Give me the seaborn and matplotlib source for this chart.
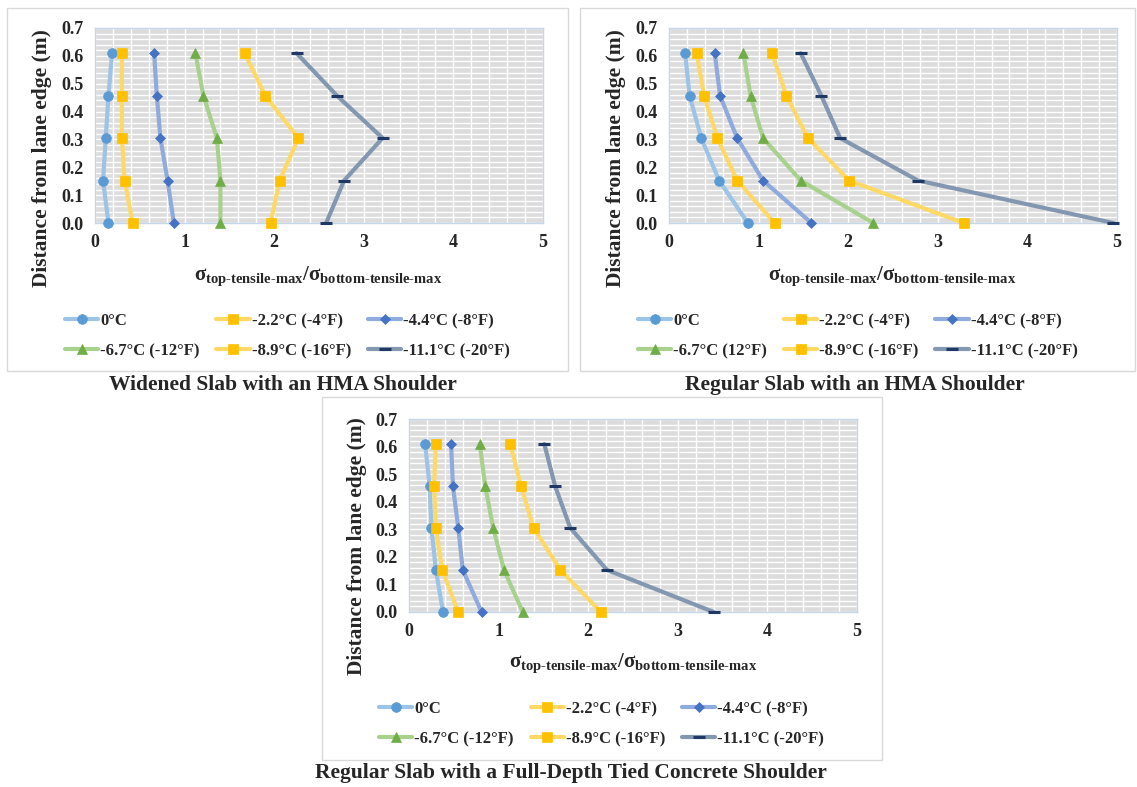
import numpy as np
import pandas as pd
import matplotlib
matplotlib.use("Agg")
import matplotlib.pyplot as plt
from matplotlib.patches import Rectangle
from matplotlib.ticker import MultipleLocator
import seaborn as sns

# ---------------- data ----------------
distance_m = [0.0, 0.1524, 0.3048, 0.4572, 0.6096]
series_labels = ["0\u00b0C", "-2.2\u00b0C (-4\u00b0F)", "-4.4\u00b0C (-8\u00b0F)",
                 "-6.7\u00b0C (-12\u00b0F)", "-8.9\u00b0C (-16\u00b0F)", "-11.1\u00b0C (-20\u00b0F)"]
series_labels_b = ["0\u00b0C", "-2.2\u00b0C (-4\u00b0F)", "-4.4\u00b0C (-8\u00b0F)",
                   "-6.7\u00b0C (12\u00b0F)", "-8.9\u00b0C (-16\u00b0F)", "-11.1\u00b0C (-20\u00b0F)"]

# Widened slab with an HMA shoulder (ratio at distances 0, 0.15, 0.30, 0.46, 0.61 m)
widened_0C    = [0.15, 0.09, 0.12, 0.15, 0.19]
widened_m2_2C = [0.42, 0.33, 0.30, 0.30, 0.30]
widened_m4_4C = [0.88, 0.81, 0.73, 0.69, 0.66]
widened_m6_7C = [1.40, 1.40, 1.36, 1.21, 1.12]
widened_m8_9C = [1.96, 2.06, 2.27, 1.90, 1.67]
widened_m11_1C = [2.58, 2.78, 3.21, 2.70, 2.25]

# Regular slab with an HMA shoulder
regular_0C    = [0.88, 0.56, 0.36, 0.23, 0.18]
regular_m2_2C = [1.18, 0.76, 0.54, 0.39, 0.31]
regular_m4_4C = [1.59, 1.05, 0.76, 0.57, 0.51]
regular_m6_7C = [2.28, 1.47, 1.05, 0.91, 0.83]
regular_m8_9C = [3.29, 2.01, 1.55, 1.31, 1.15]
regular_m11_1C = [4.96, 2.78, 1.91, 1.70, 1.47]

# Regular slab with a full-depth tied concrete shoulder
tied_0C    = [0.38, 0.30, 0.25, 0.23, 0.18]
tied_m2_2C = [0.55, 0.37, 0.30, 0.28, 0.30]
tied_m4_4C = [0.81, 0.60, 0.55, 0.49, 0.47]
tied_m6_7C = [1.27, 1.06, 0.94, 0.85, 0.79]
tied_m8_9C = [2.14, 1.69, 1.39, 1.25, 1.13]
tied_m11_1C = [3.40, 2.21, 1.80, 1.63, 1.51]

panel_titles = ["Widened Slab with an HMA Shoulder",
                "Regular Slab with an HMA Shoulder",
                "Regular Slab with a Full-Depth Tied Concrete Shoulder"]

# ---------------- styles ----------------
line_colors = ["#9DC3E6", "#FFD966", "#8FAADC", "#A9D18E", "#FFD966", "#8497B0"]
marker_colors = ["#5B9BD5", "#FFC000", "#4472C4", "#70AD47", "#FFC000", "#1F3864"]
markers = ["o", "s", "D", "^", "s", "_"]
msizes = [7, 7.5, 5, 6.5, 7.5, 8]

sns.set_theme(style="white")
FONT = "Liberation Serif"
plt.rcParams["font.family"] = [FONT, "DejaVu Serif"]
plt.rcParams["font.weight"] = "bold"
plt.rcParams["mathtext.fontset"] = "custom"
plt.rcParams["mathtext.rm"] = "Liberation Serif:bold"
plt.rcParams["mathtext.it"] = "Liberation Serif:bold"
plt.rcParams["mathtext.bf"] = "Liberation Serif:bold"

W, H = 1137, 787
fig = plt.figure(figsize=(W / 100, H / 100), dpi=100)
fig.patch.set_facecolor("white")


def fx(px):
    return px / W


def fy(py):
    return 1 - py / H


def add_box(x0, y0, x1, y1):
    fig.patches.append(Rectangle((fx(x0), fy(y1)), fx(x1) - fx(x0), fy(y0) - fy(y1),
                                 transform=fig.transFigure, fill=False,
                                 edgecolor="#D9D9D9", lw=1.0, zorder=0))


def draw_panel(axpix, series, labels, box, title_pos, ylab_pos, xlab_pos, leg_pos, title):
    x0, y0, x1, y1 = axpix
    add_box(*box)
    ax = fig.add_axes([fx(x0), fy(y1), fx(x1) - fx(x0), fy(y0) - fy(y1)])
    ax.set_facecolor("#DCDCDC")
    for vals, lab, lc, mc, mk, ms in zip(series, labels, line_colors, marker_colors, markers, msizes):
        df = pd.DataFrame({"ratio": vals, "dist": distance_m})
        sns.lineplot(data=df, x="ratio", y="dist", orient="y", ax=ax, color=lc, lw=3,
                     marker=mk, markersize=ms, markerfacecolor=mc, markeredgecolor=mc,
                     markeredgewidth=2.2 if mk == "_" else 0.5, label=lab)
    for ln in ax.lines:
        ln.set_clip_on(False)
        ln.set_zorder(4)
    ax.set_xlim(0, 5)
    ax.set_ylim(0, 0.7)
    ax.xaxis.set_major_locator(MultipleLocator(1))
    ax.xaxis.set_minor_locator(MultipleLocator(0.2))
    ax.yaxis.set_major_locator(MultipleLocator(0.1))
    ax.yaxis.set_minor_locator(MultipleLocator(0.02))
    ax.yaxis.set_major_formatter(matplotlib.ticker.FormatStrFormatter("%.1f"))
    ax.grid(True, which="both", color="white", lw=1.0)
    ax.set_axisbelow(True)
    ax.tick_params(which="both", length=0, labelsize=13, pad=8)
    for t in ax.get_xticklabels() + ax.get_yticklabels():
        t.set_fontweight("bold")
    for s in ax.spines.values():
        s.set_color("#C5D7EA")
        s.set_linewidth(1.0)
    ax.set_xlabel("")
    ax.set_ylabel("")
    fig.text(fx(ylab_pos[0]), fy(ylab_pos[1]), "Distance from lane edge (m)", rotation=90,
             ha="center", va="center", fontsize=15.5, fontweight="bold")
    fig.text(fx(xlab_pos[0]), fy(xlab_pos[1]),
             r"$\sigma_{\text{top-tensile-max}}/\sigma_{\text{bottom-tensile-max}}$",
             ha="center", va="center", fontsize=15)
    fig.text(fx(title_pos[0]), fy(title_pos[1]), title, ha="center", va="center",
             fontsize=15.5, fontweight="bold")
    handles, labs = ax.get_legend_handles_labels()
    order = [0, 3, 1, 4, 2, 5]
    ax.legend([handles[i] for i in order], [labs[i] for i in order],
              loc="upper left", bbox_to_anchor=(fx(leg_pos[0]), fy(leg_pos[1])),
              bbox_transform=fig.transFigure, ncol=3, frameon=False,
              borderpad=0, borderaxespad=0,
              handlelength=2.0, handletextpad=0.12, columnspacing=1.0,
              labelspacing=0.85, prop={"family": FONT, "weight": "bold", "size": 12})
    return ax


draw_panel((95, 28, 543, 223),
           [widened_0C, widened_m2_2C, widened_m4_4C, widened_m6_7C, widened_m8_9C, widened_m11_1C],
           series_labels, (7, 8, 568, 371), (283, 385), (42, 158), (318, 276), (65, 313),
           panel_titles[0])
draw_panel((669, 28, 1117, 223),
           [regular_0C, regular_m2_2C, regular_m4_4C, regular_m6_7C, regular_m8_9C, regular_m11_1C],
           series_labels_b, (580, 8, 1135, 371), (855, 385), (616, 158), (892, 276), (638, 313),
           panel_titles[1])
draw_panel((409, 419, 857, 612),
           [tied_0C, tied_m2_2C, tied_m4_4C, tied_m6_7C, tied_m8_9C, tied_m11_1C],
           series_labels, (322, 397, 882, 760), (571, 773), (357, 546), (633, 663), (379, 701),
           panel_titles[2])

fig.savefig("out.png", dpi=100)
